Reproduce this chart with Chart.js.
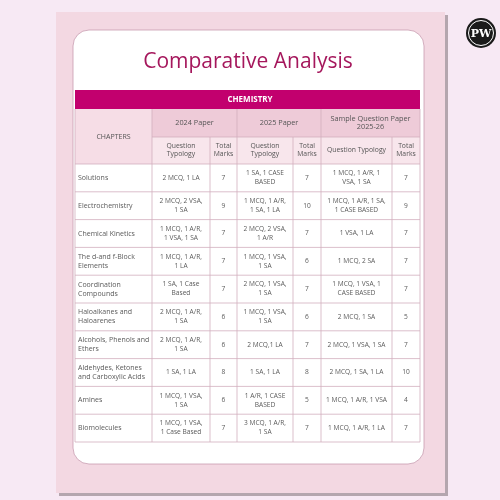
<!DOCTYPE html>
<html><head><meta charset="utf-8">
<script src="https://cdn.jsdelivr.net/npm/chart.js@4"></script>
<style>html,body{margin:0;padding:0;background:#f7e9f4}canvas{display:block}</style>
</head><body>
<div style="width:500px;height:500px"><canvas id="c" width="500" height="500"></canvas></div>
<script>
const title = "Comparative Analysis";
const subject = "CHEMISTRY";
const papers = ["2024 Paper", "2025 Paper", "Sample Question Paper\n2025-26"];
const subHeads = ["Question\nTypology", "Total\nMarks", "Question\nTypology", "Total\nMarks", "Question Typology", "Total\nMarks"];
const chapters = ["Solutions", "Electrochemistry", "Chemical Kinetics", "The d-and f-Block\nElements", "Coordination\nCompounds", "Haloalkanes and\nHaloarenes", "Alcohols, Phenols and\nEthers", "Aldehydes, Ketones\nand Carboxylic Acids", "Amines", "Biomolecules"];
const typ2024 = ["2 MCQ, 1 LA", "2 MCQ, 2 VSA,\n1 SA", "1 MCQ, 1 A/R,\n1 VSA, 1 SA", "1 MCQ, 1 A/R,\n1 LA", "1 SA, 1 Case\nBased", "2 MCQ, 1 A/R,\n1 SA", "2 MCQ, 1 A/R,\n1 SA", "1 SA, 1 LA", "1 MCQ, 1 VSA,\n1 SA", "1 MCQ, 1 VSA,\n1 Case Based"];
const marks2024 = [7, 9, 7, 7, 7, 6, 6, 8, 6, 7];
const typ2025 = ["1 SA, 1 CASE\nBASED", "1 MCQ, 1 A/R,\n1 SA, 1 LA", "2 MCQ, 2 VSA,\n1 A/R", "1 MCQ, 1 VSA,\n1 SA", "2 MCQ, 1 VSA,\n1 SA", "1 MCQ, 1 VSA,\n1 SA", "2 MCQ,1 LA", "1 SA, 1 LA", "1 A/R, 1 CASE\nBASED", "3 MCQ, 1 A/R,\n1 SA"];
const marks2025 = [7, 10, 7, 6, 7, 6, 7, 8, 5, 7];
const typSample = ["1 MCQ, 1 A/R, 1\nVSA, 1 SA", "1 MCQ, 1 A/R, 1 SA,\n1 CASE BASED", "1 VSA, 1 LA", "1 MCQ, 2 SA", "1 MCQ, 1 VSA, 1\nCASE BASED", "2 MCQ, 1 SA", "2 MCQ, 1 VSA, 1 SA", "2 MCQ, 1 SA, 1 LA", "1 MCQ, 1 A/R, 1 VSA", "1 MCQ, 1 A/R, 1 LA"];
const marksSample = [7, 9, 7, 7, 7, 5, 7, 10, 4, 7];

const colX = [75, 152, 210, 237, 293, 321, 392, 420];
const FONT = "'Open Sans', Lato, sans-serif";
const BORDER = "#d2aebe";

function lines(ctx, txt, x, y, lh, align) {
  const ls = String(txt).split("\n");
  ctx.textAlign = align; ctx.textBaseline = "middle";
  ls.forEach((l, i) => ctx.fillText(l, x, y + (i - (ls.length - 1) / 2) * lh));
}
function rr(ctx, x, y, w, h, r) {
  ctx.beginPath(); ctx.moveTo(x + r, y); ctx.arcTo(x + w, y, x + w, y + h, r);
  ctx.arcTo(x + w, y + h, x, y + h, r); ctx.arcTo(x, y + h, x, y, r); ctx.arcTo(x, y, x + w, y, r); ctx.closePath();
}

const tablePlugin = {
  id: 'table',
  beforeDraw(chart) {
    const ctx = chart.ctx;
    ctx.save();
    ctx.fillStyle = "#f7e9f4"; ctx.fillRect(0, 0, 500, 500);
    ctx.fillStyle = "#b4a6ae"; ctx.fillRect(59, 15, 389, 481);
    ctx.fillStyle = "#f3d8e2"; ctx.fillRect(56, 12, 389, 481);
    rr(ctx, 73, 30, 351, 434, 16);
    ctx.fillStyle = "#ffffff"; ctx.fill();
    ctx.lineWidth = 0.8; ctx.strokeStyle = "#c89cb0"; ctx.stroke();
    ctx.beginPath(); ctx.arc(481, 33, 15, 0, Math.PI * 2); ctx.fillStyle = "#1a1a1a"; ctx.fill();
    ctx.beginPath(); ctx.arc(481, 33, 12.5, 0, Math.PI * 2); ctx.strokeStyle = "#ffffff"; ctx.lineWidth = 1; ctx.stroke();
    ctx.fillStyle = "#ffffff"; ctx.font = "bold 11px 'DejaVu Serif', serif";
    lines(ctx, "PW", 481, 34, 12, "center");
    ctx.fillStyle = "#a5175c"; ctx.font = "400 21px " + FONT;
    lines(ctx, title, 248, 62, 20, "center");
    const L = colX[0], R = colX[7];
    ctx.fillStyle = "#c2006e"; ctx.fillRect(L, 90, R - L, 19);
    ctx.fillStyle = "#ffffff"; ctx.font = "bold 8px " + FONT;
    lines(ctx, subject, 250, 100, 9, "center");
    ctx.fillStyle = "#f6dde6"; ctx.fillRect(L, 109, colX[1] - L, 55);
    ctx.fillStyle = "#eecbd8"; ctx.fillRect(colX[1], 109, R - colX[1], 28);
    ctx.fillStyle = "#f8e6ec"; ctx.fillRect(colX[1], 137, R - colX[1], 27);
    ctx.fillStyle = "#555"; ctx.font = "7px " + FONT;
    lines(ctx, "CHAPTERS", (L + colX[1]) / 2, 137, 8, "center");
    ctx.font = "7.3px " + FONT;
    lines(ctx, papers[0], (colX[1] + colX[3]) / 2, 123, 8, "center");
    lines(ctx, papers[1], (colX[3] + colX[5]) / 2, 123, 8, "center");
    lines(ctx, papers[2], (colX[5] + colX[7]) / 2, 123, 8, "center");
    ctx.font = "6.8px " + FONT;
    subHeads.forEach((s, i) => lines(ctx, s, (colX[i + 1] + colX[i + 2]) / 2, 150.5, 8, "center"));
    ctx.strokeStyle = BORDER; ctx.lineWidth = 0.8;
    ctx.beginPath();
    ctx.moveTo(colX[1], 137); ctx.lineTo(R, 137);
    ctx.moveTo(L, 164); ctx.lineTo(R, 164);
    [1, 3, 5].forEach(i => { ctx.moveTo(colX[i], 109); ctx.lineTo(colX[i], 164); });
    [2, 4, 6].forEach(i => { ctx.moveTo(colX[i], 137); ctx.lineTo(colX[i], 164); });
    ctx.moveTo(L, 109); ctx.lineTo(L, 164); ctx.moveTo(R, 109); ctx.lineTo(R, 164);
    ctx.stroke();
    ctx.restore();
  },
  afterDatasetsDraw(chart) {
    const ctx = chart.ctx, y = chart.scales.y, a = chart.chartArea;
    const cols = [chapters, typ2024, marks2024, typ2025, marks2025, typSample, marksSample];
    const band = (y.getPixelForValue(1) - y.getPixelForValue(0));
    ctx.save();
    ctx.strokeStyle = BORDER; ctx.lineWidth = 0.8;
    chapters.forEach((_, r) => {
      const cy = y.getPixelForValue(r);
      ctx.beginPath(); ctx.moveTo(colX[0], cy + band / 2); ctx.lineTo(colX[7], cy + band / 2); ctx.stroke();
      cols.forEach((col, c) => {
        ctx.fillStyle = "#5a5a5a";
        ctx.font = (c === 0 ? "7px " : "6.6px ") + FONT;
        if (c === 0) lines(ctx, col[r], colX[0] + 3, cy, 9, "left");
        else lines(ctx, col[r], (colX[c] + colX[c + 1]) / 2, cy, 9, "center");
      });
    });
    ctx.beginPath();
    colX.forEach(x => { ctx.moveTo(x, a.top); ctx.lineTo(x, a.bottom); });
    ctx.stroke();
    ctx.restore();
  }
};

new Chart(document.getElementById('c'), {
  type: 'scatter',
  data: { labels: chapters, datasets: [{ data: marks2024.map((m, i) => ({ x: m, y: chapters[i] })), pointRadius: 0 }] },
  options: {
    responsive: false, animation: false, devicePixelRatio: 1,
    layout: { padding: { left: colX[0], right: 500 - colX[7], top: 164, bottom: 58 } },
    plugins: { legend: { display: false }, tooltip: { enabled: false } },
    scales: {
      x: { type: 'linear', display: false, min: 0, max: 12 },
      y: { type: 'category', labels: chapters, offset: true, display: false, grid: { display: false } }
    }
  },
  plugins: [tablePlugin]
});
</script>
</body></html>
